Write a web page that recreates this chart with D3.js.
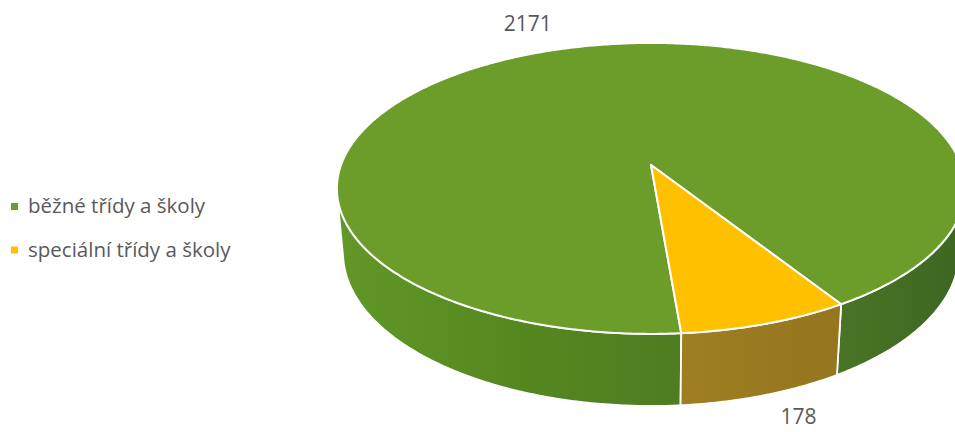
<!DOCTYPE html>
<html>
<head>
<meta charset="utf-8">
<script src="https://cdn.jsdelivr.net/npm/d3@7"></script>
<style>
  body { margin: 0; background: #fff; }
  svg { display: block; font-family: "Open Sans", sans-serif; }
</style>
</head>
<body>
<script>
var width = 955, height = 432;

// data
var categories = ["běžné třídy a školy", "speciální třídy a školy"];
var values = [2171, 178];
var topColors = ["#6c9c29", "#ffc000"];
var sideColors = [
    [[0, "#619827"], [0.3, "#55871f"], [0.55, "#4e7d22"], [0.8, "#4a7526"], [1, "#3d6622"]],
    [[0, "#9e7e21"], [1, "#95761f"]]
];

// perspective of the tilted disc
var cx = 651, cy = 165;   // centre of the disc on screen
var A = 310, B = 141.7;   // radii
var p = 0.161;            // perspective strength
var k = 0.0196;           // extra distance of the bottom face
var H = 65.2;             // height of the side wall
var startDeg = 175.3;

var svg = d3.select("body").append("svg")
    .attr("width", width)
    .attr("height", height);

function project(a, r, z) {
    var u = r * Math.sin(a), v = -r * Math.cos(a);
    var w = 1 - p * v + k * z;
    return [cx + A * u / w, cy + (B * v + H * z) / w];
}

var pie = d3.pie().sort(null)
    .startAngle(startDeg * Math.PI / 180)
    .endAngle(startDeg * Math.PI / 180 + 2 * Math.PI);
var arcs = pie(values);

var defs = svg.append("defs");
sideColors.forEach(function (stops, i) {
    var g = defs.append("linearGradient")
        .attr("id", "side" + i)
        .attr("gradientUnits", "userSpaceOnUse")
        .attr("x1", i == 0 ? 337 : 683).attr("x2", i == 0 ? 960 : 840)
        .attr("y1", 0).attr("y2", 0);
    stops.forEach(function (s) {
        g.append("stop").attr("offset", s[0]).attr("stop-color", s[1]);
    });
});

// visible (front) part of the side wall
var sinT = B / A;
var edge = Math.acos(-p / (1 - sinT * sinT));
var vis0 = edge, vis1 = 2 * Math.PI - edge;
var line = d3.line();

function arcPoints(a0, a1, r, z) {
    var n = Math.max(2, Math.ceil((a1 - a0) / 0.01));
    var pts = [];
    for (var j = 0; j <= n; j++) pts.push(project(a0 + (a1 - a0) * j / n, r, z));
    return pts;
}

var sides = [];
arcs.forEach(function (s, i) {
    [0, 2 * Math.PI].forEach(function (off) {
        var a0 = Math.max(s.startAngle, vis0 + off);
        var a1 = Math.min(s.endAngle, vis1 + off);
        if (a1 > a0) sides.push({ i: i, a0: a0, a1: a1 });
    });
});

svg.append("g").selectAll("path")
    .data(sides)
    .enter()
    .append("path")
    .attr("d", function (s) {
        var top = arcPoints(s.a0, s.a1, 1, 0);
        var bottom = arcPoints(s.a0, s.a1, 1, 1).reverse();
        return line(top.concat(bottom)) + "Z";
    })
    .attr("fill", function (s) { return "url(#side" + s.i + ")"; })
    .attr("stroke", "#fff")
    .attr("stroke-width", 1.8)
    .attr("stroke-linejoin", "round");

// top face
svg.append("g").selectAll("path")
    .data(arcs)
    .enter()
    .append("path")
    .attr("d", function (s) {
        return line([[cx, cy]].concat(arcPoints(s.startAngle, s.endAngle, 1, 0))) + "Z";
    })
    .attr("fill", function (s, i) { return topColors[i]; })
    .attr("stroke", "#fff")
    .attr("stroke-width", 2)
    .attr("stroke-linejoin", "round");

// data labels
var nudge = [[-21, 7], [18, 4]];
svg.append("g").selectAll("text")
    .data(arcs)
    .enter()
    .append("text")
    .attr("transform", function (s, i) {
        var mid = (s.startAngle + s.endAngle) / 2;
        var front = Math.cos(mid) < 0;
        var pt = project(mid, 1, front ? 1 : 0);
        var dx = pt[0] - cx, dy = pt[1] - (front ? cy + H : cy);
        var len = Math.sqrt(dx * dx + dy * dy);
        return "translate(" + (pt[0] + dx / len * 30 + nudge[i][0]) + "," +
            (pt[1] + dy / len * 30 + nudge[i][1]) + ")";
    })
    .attr("text-anchor", "middle")
    .attr("font-size", 21)
    .attr("fill", "#595959")
    .text(function (s) { return s.data; });

// legend
var legend = svg.append("g").attr("transform", "translate(11,213)");
var row = legend.selectAll("g")
    .data(categories)
    .enter()
    .append("g")
    .attr("transform", function (d, i) { return "translate(0," + i * 43.5 + ")"; });
row.append("rect")
    .attr("x", 0).attr("y", -10)
    .attr("width", 7).attr("height", 7)
    .attr("fill", function (d, i) { return topColors[i]; });
row.append("text")
    .attr("x", 17)
    .attr("font-size", 20.5)
    .attr("fill", "#595959")
    .text(function (d) { return d; });
</script>
</body>
</html>
